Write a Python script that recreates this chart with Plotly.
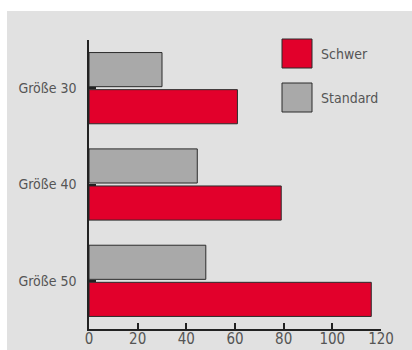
import plotly.graph_objects as go

categories = ["Größe 30", "Größe 40", "Größe 50"]
standard = [30, 44.5, 48]
schwer = [61, 79, 116]
x_ticks = [0, 20, 40, 60, 80, 100, 120]

RED = "#e2002b"
GREY = "#a9a9a9"
EDGE = "#2b2b2b"
TEXT = "#555555"
FONT = "Liberation Sans Narrow, DejaVu Sans Condensed, Roboto Condensed, Open Sans, sans-serif"

W, H = 412, 350
L, R, T, B = 89, 31, 40, 21
PW, PH = W - L - R, H - T - B


def px(x):
    return (x - L) / PW


def py(y):
    return (H - B - y) / PH


fig = go.Figure()
fig.add_trace(go.Bar(y=categories, x=standard, orientation="h", name="Standard",
                     marker=dict(color=GREY, line=dict(color=EDGE, width=1))))
fig.add_trace(go.Bar(y=categories, x=schwer, orientation="h", name="Schwer",
                     marker=dict(color=RED, line=dict(color=EDGE, width=1))))

shapes = [
    dict(type="rect", xref="paper", yref="paper", x0=px(7), x1=px(413),
         y0=py(351), y1=py(11), fillcolor="#e1e1e1", line=dict(width=0), layer="below"),
]
annotations = []
legend_items = [("Schwer", RED, 39), ("Standard", GREY, 83)]
for label, color, top in legend_items:
    shapes.append(dict(type="rect", xref="paper", yref="paper", x0=px(282), x1=px(312),
                       y0=py(top + 29), y1=py(top), fillcolor=color,
                       line=dict(color=EDGE, width=1)))
    annotations.append(dict(xref="paper", yref="paper", x=px(319), y=py(top + 14.5),
                            text=label, showarrow=False, xanchor="left", yanchor="middle",
                            font=dict(family=FONT, size=14, color=TEXT)))

fig.update_layout(
    width=W, height=H,
    margin=dict(l=L, r=R, t=T, b=B, pad=0, autoexpand=False),
    paper_bgcolor="white", plot_bgcolor="rgba(0,0,0,0)",
    barmode="group", bargap=0.23, bargroupgap=0.08,
    showlegend=False,
    shapes=shapes, annotations=annotations,
    font=dict(family=FONT, size=14, color=TEXT),
    xaxis=dict(range=[0, 120], tickvals=x_ticks, showgrid=False, zeroline=False,
               automargin=False,
               showline=True, linecolor="#222222", linewidth=1.5,
               ticks="inside", ticklen=6, tickwidth=1.5, tickcolor="#222222",
               ticklabelstandoff=-5, tickfont=dict(size=15, color=TEXT)),
    yaxis=dict(autorange="reversed", showgrid=False, zeroline=False,
               automargin=False,
               showline=True, linecolor="#222222", linewidth=1.5,
               ticks="inside", ticklen=7, tickwidth=2, tickcolor="#222222",
               ticklabelstandoff=8, tickfont=dict(size=14, color=TEXT)),
)

fig.write_html("out.html")
